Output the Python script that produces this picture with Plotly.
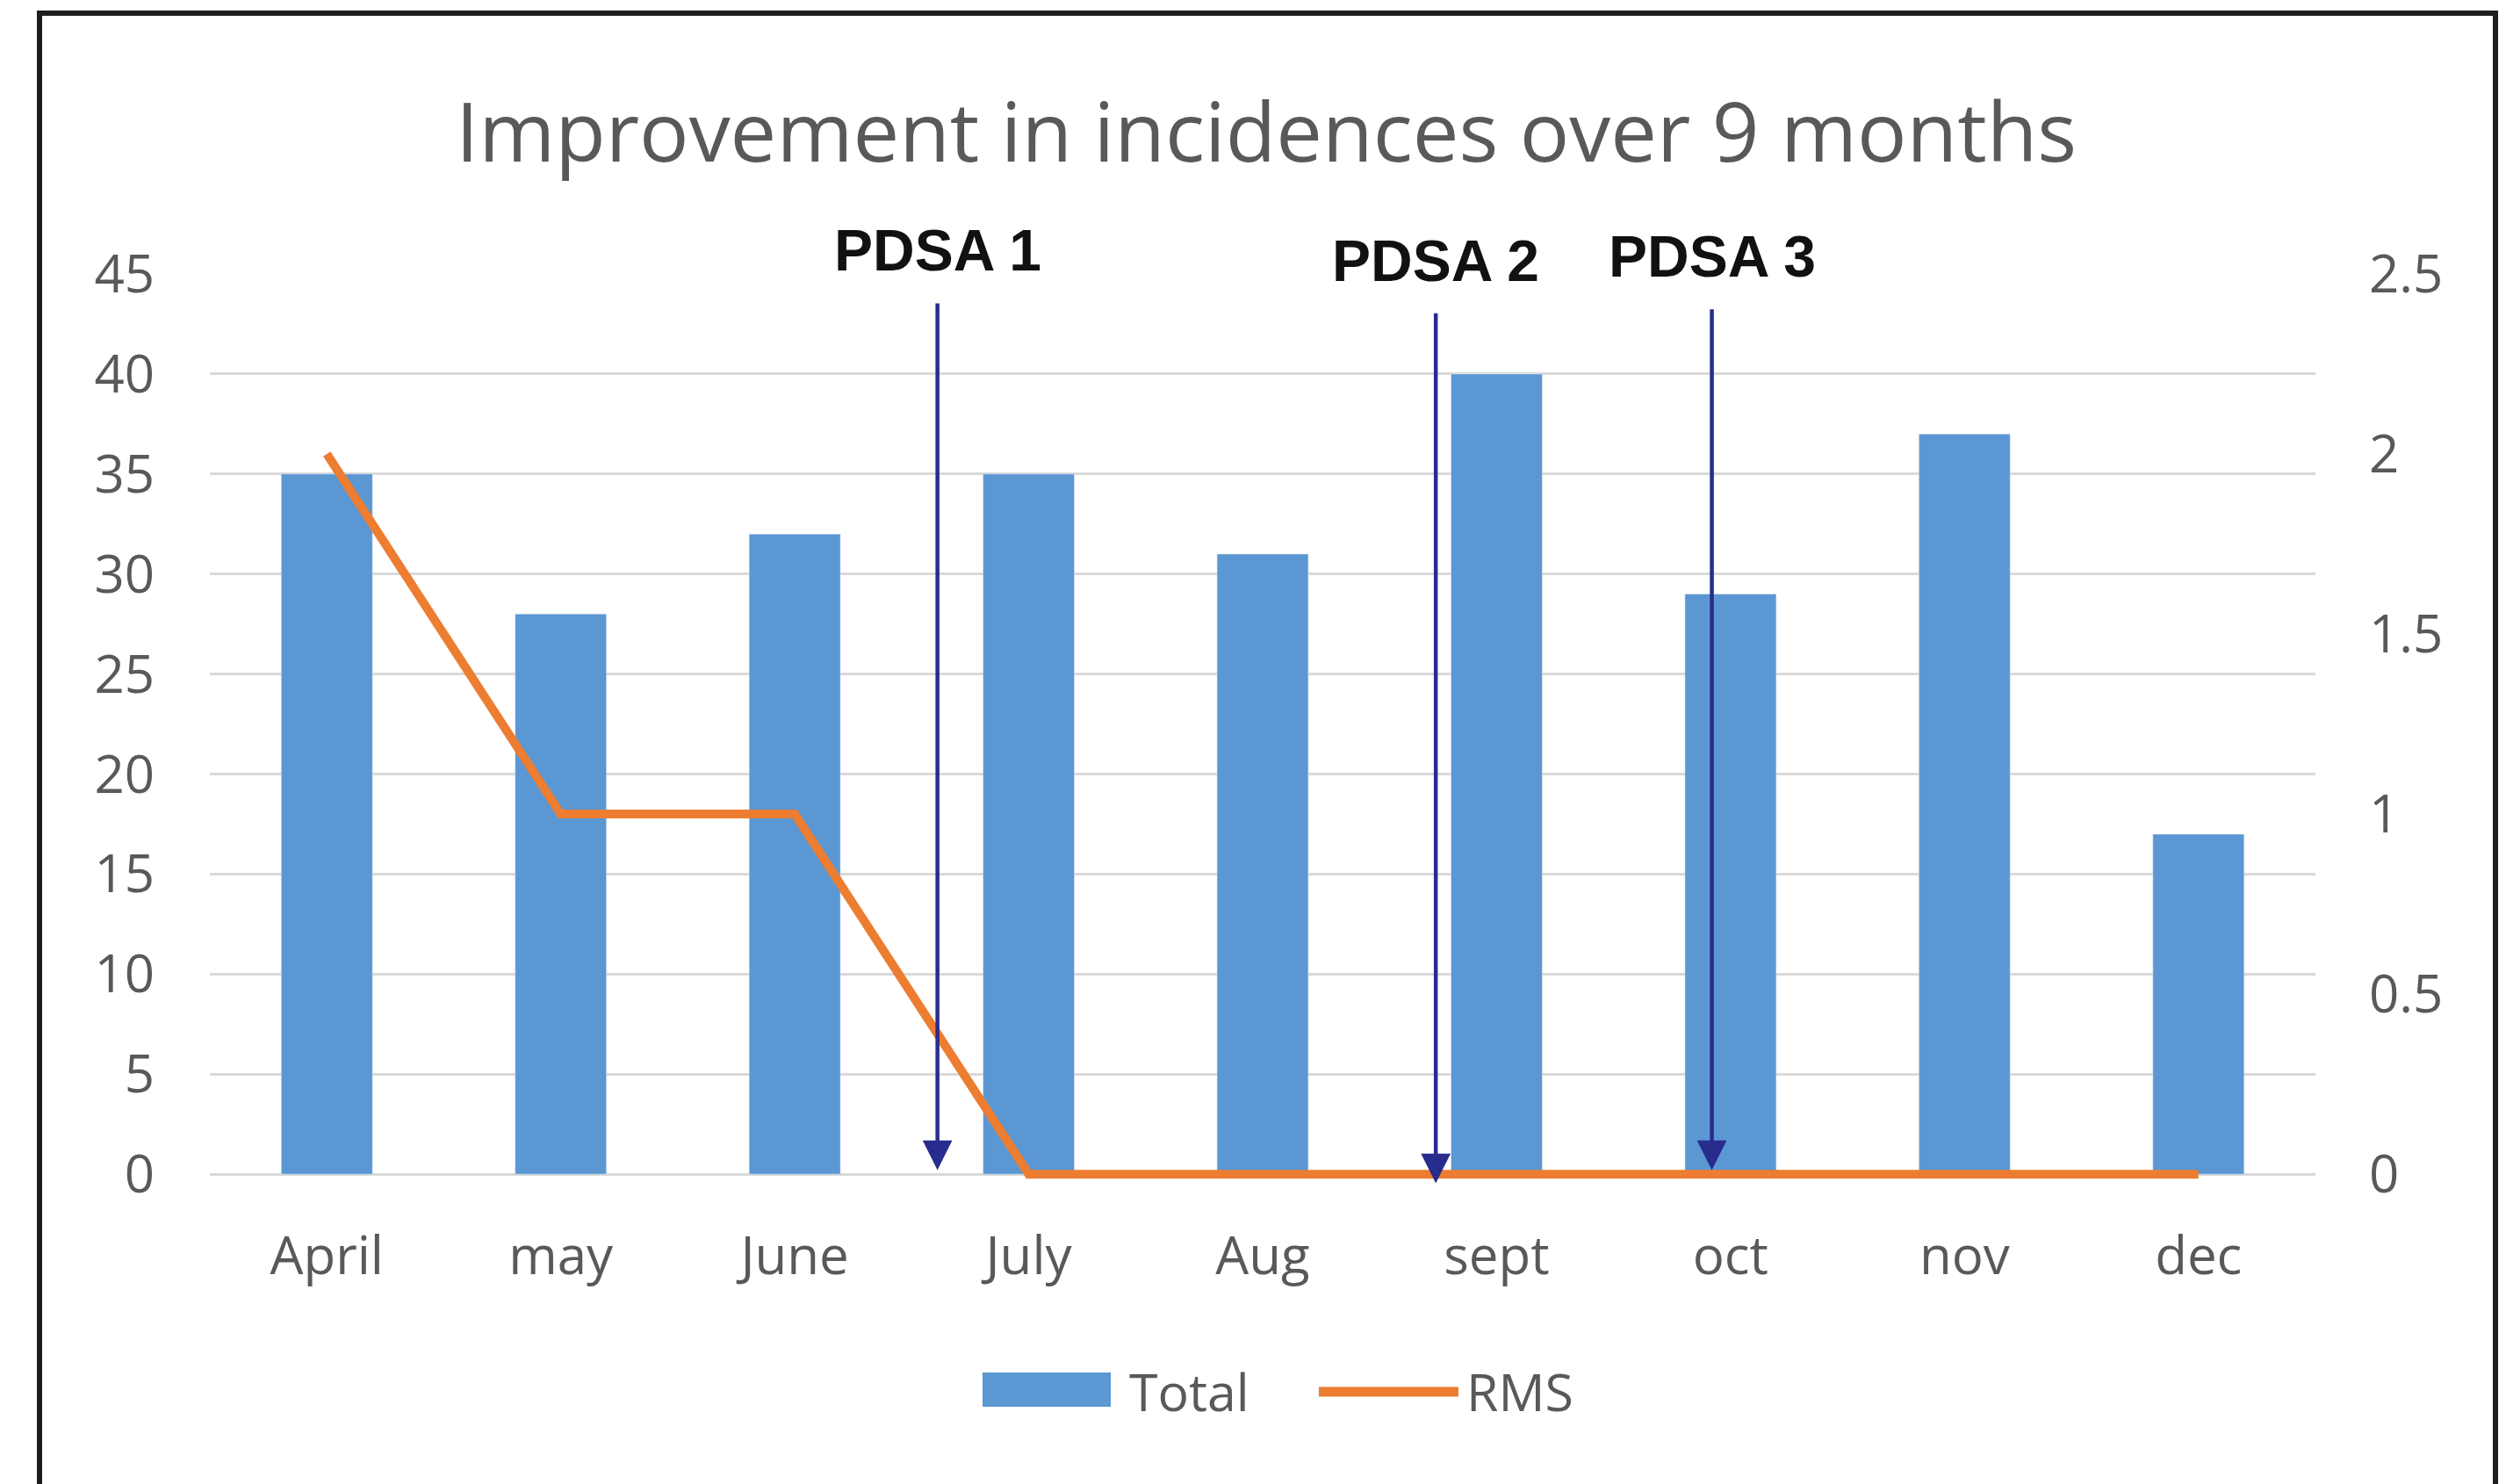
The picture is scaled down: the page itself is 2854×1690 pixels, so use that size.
import plotly.graph_objects as go

# ---- data ----
months = ["April", "may", "June", "July", "Aug", "sept", "oct", "nov", "dec"]
total = [35, 28, 32, 35, 31, 40, 29, 37, 17]
rms = [2, 1, 1, 0, 0, 0, 0, 0, 0]
left_ticks = [0, 5, 10, 15, 20, 25, 30, 35, 40, 45]
right_ticks = [0, 0.5, 1, 1.5, 2, 2.5]
pdsa_labels = ["PDSA 1", "PDSA 2", "PDSA 3"]

# ---- layout geometry (target page pixels; page body has an 8px margin) ----
OFF = 8
W, H = 2854 - OFF, 1690 - OFF
Y_MAX, Y2_MAX = 45, 2.5
PAD = 0.3  # small headroom below zero so the RMS line is not clipped
ZERO_PX, TOP_PX = 1337, 312
UNIT = (ZERO_PX - TOP_PX) / Y_MAX
PL, PR = 239 - OFF, 2637 - OFF
PT = TOP_PX - OFF
PB = int(round(ZERO_PX + PAD * UNIT)) - OFF
BLUE = "#5A97D3"
ORANGE = "#ED7D31"
NAVY = "#282C8C"
GREY = "#595959"


def px(x):
    return (x - OFF - PL) / (PR - PL)


def py(y):
    return (PB - (y - OFF)) / (PB - PT)


fig = go.Figure()
fig.add_trace(go.Bar(x=months, y=total, name="Total", marker_color=BLUE,
                     width=0.39, yaxis="y", showlegend=False))
fig.add_trace(go.Scatter(x=months, y=rms, name="RMS", mode="lines",
                         line=dict(color=ORANGE, width=10), yaxis="y2",
                         showlegend=False, cliponaxis=False))

# PDSA arrows (category-index positions)
arrow_x = [2.61, 4.74, 5.92]
arrow_top = [43.6, 43.1, 43.3]
arrow_tip = [0.2, -0.45, 0.2]
label_py = [285, 297, 292]
annotations = []
for lab, ax_, top, tip, ly in zip(pdsa_labels, arrow_x, arrow_top, arrow_tip, label_py):
    annotations.append(dict(x=ax_, y=tip, ax=ax_, ay=top, xref="x", yref="y",
                            axref="x", ayref="y", text="", showarrow=True,
                            arrowhead=2, arrowsize=1.5, arrowwidth=4.5,
                            arrowcolor=NAVY, standoff=0, startstandoff=0))
    annotations.append(dict(x=ax_, y=py(ly), xref="x", yref="paper",
                            text="<b>%s</b>" % lab,
                            showarrow=False, xanchor="center", yanchor="middle",
                            font=dict(family="Liberation Sans, Arial", size=66,
                                      color="#111111")))

# custom legend text
annotations.append(dict(x=px(1284), y=py(1584), xref="paper", yref="paper",
                        text="Total", showarrow=False, xanchor="left", yanchor="middle",
                        font=dict(family="Open Sans", size=59, color=GREY)))
annotations.append(dict(x=px(1668), y=py(1584), xref="paper", yref="paper",
                        text="RMS", showarrow=False, xanchor="left", yanchor="middle",
                        font=dict(family="Open Sans", size=59, color=GREY)))

shapes = [
    # legend swatches
    dict(type="rect", xref="paper", yref="paper", x0=px(1119), x1=px(1265),
         y0=py(1602), y1=py(1563), fillcolor=BLUE, line=dict(width=0)),
    dict(type="line", xref="paper", yref="paper", x0=px(1502), x1=px(1661),
         y0=py(1585), y1=py(1585), line=dict(color=ORANGE, width=11)),
    # outer frame
    dict(type="rect", xref="paper", yref="paper", x0=px(45), x1=px(2842),
         y0=py(1760), y1=py(15), line=dict(color="#1E1E1E", width=6),
         fillcolor="rgba(0,0,0,0)", layer="above"),
]

fig.update_layout(
    width=W, height=H,
    margin=dict(l=PL, r=W - PR, t=PT, b=H - PB),
    paper_bgcolor="white", plot_bgcolor="white",
    title=dict(text="Improvement in incidences over 9 months", x=(1442 - OFF) / W,
               xanchor="center", y=1 - (151 - OFF) / H, yanchor="middle",
               yref="container",
               font=dict(family="Open Sans", size=94, color=GREY)),
    xaxis=dict(categoryorder="array", categoryarray=months, showgrid=False,
               showline=False, zeroline=False, ticks="",
               tickfont=dict(family="Open Sans", size=60, color=GREY),
               ticklabelstandoff=46, range=[-0.5, 8.5]),
    yaxis=dict(range=[-PAD, Y_MAX], tickvals=left_ticks, showgrid=True,
               gridcolor="#D9D9D9", gridwidth=3, zeroline=False, showline=False,
               ticks="", tickfont=dict(family="Open Sans", size=60, color=GREY),
               ticklabelstandoff=62),
    yaxis2=dict(range=[-PAD * Y2_MAX / Y_MAX, Y2_MAX], tickvals=right_ticks,
                overlaying="y", side="right",
                showgrid=False, zeroline=False, showline=False, ticks="",
                tickfont=dict(family="Open Sans", size=60, color=GREY),
                ticklabelstandoff=60),
    bargap=0.61,
    annotations=annotations,
    shapes=shapes,
    showlegend=False,
)

fig.write_html("out.html")
